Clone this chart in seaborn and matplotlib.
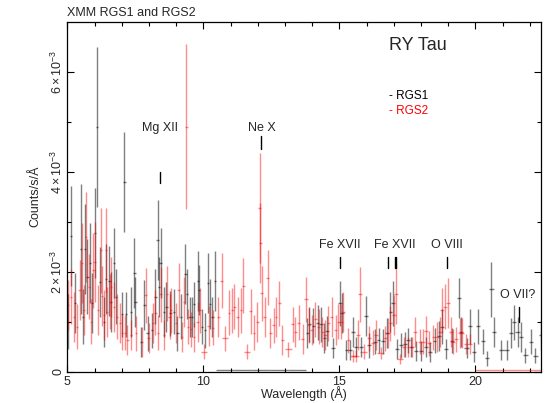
import numpy as np
import matplotlib
matplotlib.use("Agg")
import matplotlib.pyplot as plt
import seaborn as sns

# RGS1 binned spectrum (wavelength in A, rate in 1e-3 counts/s/A)
rgs1_wave = [5.02, 5.15, 5.27, 5.49, 5.57, 5.64, 5.74, 5.82, 5.90, 6.03,
             6.10, 6.19, 6.35, 6.42, 6.55, 6.60, 6.71, 6.80, 7.00, 7.10,
             7.15, 7.35, 7.47, 7.50, 7.70, 7.83, 7.95, 8.11, 8.24, 8.32,
             8.38, 8.43, 8.55, 8.64, 8.79, 8.92, 9.05, 9.17, 9.34, 9.39,
             9.50, 9.59, 9.65, 9.80, 9.84, 9.96, 10.07, 10.17, 10.25, 10.33,
             10.42, 10.80, 11.46, 12.12, 12.79, 13.45,
             13.82, 13.90, 14.05, 14.20, 14.33, 14.45, 14.55, 14.77, 15.01, 15.09,
             15.26, 15.38, 15.50, 15.60, 15.81, 15.97, 16.10, 16.30, 16.44, 16.60,
             16.75, 16.88, 16.96, 17.12, 17.28, 17.40, 17.52, 17.65, 17.83, 17.99,
             18.18, 18.34, 18.50, 18.65, 18.78, 18.93, 19.14, 19.39, 19.48, 19.68,
             19.80, 19.96, 20.10, 20.28, 20.44, 20.59, 20.68, 20.96, 21.15, 21.30,
             21.42, 21.55, 21.67, 21.84, 22.05, 22.21, 22.43]
rgs1_rate = [1.00, 2.71, 1.37, 2.45, 1.10, 2.45, 1.90, 2.17, 1.37, 2.77,
             4.90, 1.80, 1.00, 1.85, 1.82, 1.40, 2.17, 1.50, 1.15, 3.80,
             1.15, 1.20, 1.97, 1.40, 0.60, 1.33, 0.77, 0.83, 1.50, 2.63,
             1.70, 2.17, 1.20, 1.30, 1.17, 1.20, 0.77, 1.10, 1.95, 1.55,
             1.10, 1.10, 1.35, 1.82, 1.63, 0.90, 0.83, 1.77, 1.36, 1.10,
             1.82, 0.03, 0.03, 0.03, 0.03, 0.03,
             0.78, 0.95, 0.92, 0.98, 0.95, 0.68, 0.82, 0.48, 1.37, 1.17,
             0.43, 0.43, 0.80, 0.50, 0.50, 1.11, 0.53, 0.60, 0.63, 0.61,
             0.77, 1.20, 1.37, 0.45, 0.53, 0.55, 0.63, 0.50, 0.41, 0.41,
             0.50, 0.40, 0.62, 0.72, 0.90, 0.45, 0.62, 1.47, 0.80, 0.47,
             0.91, 0.39, 0.91, 0.61, 0.27, 1.65, 0.80, 0.43, 0.43, 0.78,
             0.99, 0.80, 0.69, 0.33, 0.60, 0.32, 0.73]
rgs1_err = [0.55, 1.00, 0.60, 1.30, 0.55, 0.90, 0.75, 0.80, 0.60, 0.90,
            1.60, 0.70, 0.50, 0.70, 0.70, 0.60, 0.70, 0.55, 0.45, 1.00,
            0.45, 0.50, 0.70, 0.50, 0.30, 0.50, 0.35, 0.35, 0.55, 0.80,
            0.60, 0.70, 0.50, 0.50, 0.45, 0.45, 0.35, 0.45, 0.60, 0.50,
            0.40, 0.40, 0.45, 0.60, 0.50, 0.35, 0.35, 0.60, 0.50, 0.40,
            0.60, 0.00, 0.00, 0.00, 0.00, 0.00,
            0.30, 0.35, 0.35, 0.35, 0.35, 0.30, 0.30, 0.20, 0.45, 0.40,
            0.20, 0.20, 0.30, 0.20, 0.20, 0.40, 0.25, 0.25, 0.25, 0.25,
            0.30, 0.40, 0.45, 0.20, 0.25, 0.25, 0.25, 0.20, 0.20, 0.20,
            0.20, 0.20, 0.25, 0.30, 0.35, 0.20, 0.25, 0.40, 0.30, 0.20,
            0.35, 0.20, 0.35, 0.25, 0.15, 0.55, 0.30, 0.20, 0.20, 0.30,
            0.35, 0.30, 0.30, 0.15, 0.25, 0.15, 0.30]
rgs1_hw = ([0.04] * 21 + [0.045] * 30 + [0.33] * 5 + [0.06] * 8
           + [0.07] * 28 + [0.08] * 21)

# RGS2 binned spectrum
rgs2_wave = [5.03, 5.15, 5.25, 5.35, 5.45, 5.54, 5.62, 5.70, 5.79, 5.86,
             5.96, 6.00, 6.14, 6.23, 6.28, 6.35, 6.43, 6.47, 6.56, 6.62,
             6.71, 6.83, 6.93, 7.02, 7.12, 7.21, 7.35, 7.53, 7.74, 7.88,
             7.99, 8.15, 8.24, 8.33, 8.43, 8.55, 8.67, 8.76, 8.82, 9.00,
             9.09, 9.22, 9.29, 9.38, 9.44, 9.54, 9.66, 9.79, 9.87, 10.02,
             10.20, 10.36, 10.55, 10.67, 10.79, 10.94, 11.07, 11.14, 11.26, 11.38,
             11.47, 11.60, 11.74, 11.86, 11.98, 12.07, 12.10, 12.15, 12.25, 12.36,
             12.46, 12.58, 12.67, 12.79, 12.91, 13.13, 13.28, 13.38, 13.50, 13.65,
             13.77, 13.87, 13.99, 14.12, 14.24, 14.37, 14.47, 14.60, 14.72, 14.87,
             14.96, 15.06, 15.14, 15.33, 15.51, 15.60, 15.69, 15.77, 15.89, 16.09,
             16.24, 16.36, 16.52, 16.67, 16.79, 16.88, 17.00, 17.08, 17.23, 17.38,
             17.54, 17.66, 17.79, 17.95, 18.07, 18.19, 18.31, 18.46, 18.60, 18.70,
             18.78, 18.88, 18.98, 19.10, 19.18, 19.30, 19.43, 19.51, 19.67, 19.80,
             20.30, 20.90, 21.50, 22.10]
rgs2_rate = [1.33, 1.50, 1.10, 0.90, 1.63, 2.17, 1.23, 2.70, 1.70, 1.00,
             2.03, 2.20, 1.23, 2.43, 1.51, 1.13, 2.43, 1.20, 1.40, 1.70,
             1.30, 1.10, 0.97, 0.78, 0.78, 0.63, 0.73, 0.77, 0.60, 1.53,
             0.67, 0.97, 1.18, 0.78, 1.55, 0.73, 1.56, 1.10, 1.23, 0.97,
             1.63, 0.70, 1.40, 4.90, 0.90, 0.85, 0.70, 1.00, 1.23, 0.40,
             0.92, 0.88, 1.10, 1.82, 0.67, 1.18, 1.23, 1.30, 1.10, 1.23,
             1.72, 0.40, 1.21, 0.78, 1.00, 3.27, 2.57, 1.57, 1.10, 1.88,
             0.77, 0.93, 1.10, 1.37, 0.63, 0.45, 0.95, 0.80, 0.98, 0.65,
             1.45, 0.93, 0.83, 1.05, 0.90, 0.80, 0.73, 0.97, 1.10, 0.83,
             1.00, 1.00, 1.20, 0.63, 0.31, 0.31, 0.73, 1.55, 0.40, 0.67,
             0.58, 0.73, 0.37, 0.67, 0.78, 0.97, 1.13, 1.55, 0.25, 0.50,
             0.50, 0.50, 0.80, 0.60, 0.60, 0.82, 0.57, 0.69, 0.70, 0.80,
             1.23, 1.30, 1.37, 0.80, 0.60, 0.65, 0.78, 0.78, 0.55, 0.55,
             0.03, 0.03, 0.03, 0.03]
rgs2_err = [0.50, 0.55, 0.50, 0.45, 0.60, 0.80, 0.50, 0.90, 0.65, 0.45,
            0.75, 0.80, 0.50, 0.85, 0.60, 0.50, 0.85, 0.50, 0.55, 0.60,
            0.50, 0.45, 0.40, 0.35, 0.35, 0.30, 0.30, 0.35, 0.30, 0.55,
            0.30, 0.40, 0.45, 0.35, 0.55, 0.30, 0.55, 0.45, 0.45, 0.40,
            0.55, 0.30, 0.50, 1.65, 0.35, 0.35, 0.30, 0.40, 0.45, 0.15,
            0.40, 0.35, 0.40, 0.55, 0.25, 0.45, 0.45, 0.45, 0.40, 0.45,
            0.55, 0.15, 0.45, 0.35, 0.40, 1.10, 0.80, 0.55, 0.40, 0.55,
            0.30, 0.35, 0.40, 0.45, 0.30, 0.15, 0.35, 0.30, 0.35, 0.30,
            0.45, 0.35, 0.30, 0.35, 0.35, 0.30, 0.30, 0.35, 0.40, 0.30,
            0.35, 0.35, 0.40, 0.25, 0.12, 0.12, 0.30, 0.55, 0.15, 0.25,
            0.25, 0.30, 0.12, 0.25, 0.30, 0.35, 0.40, 0.60, 0.10, 0.20,
            0.20, 0.20, 0.30, 0.25, 0.25, 0.30, 0.25, 0.25, 0.30, 0.30,
            0.45, 0.45, 0.50, 0.30, 0.25, 0.25, 0.30, 0.30, 0.20, 0.20,
            0.00, 0.00, 0.00, 0.00]
rgs2_hw = ([0.04] * 29 + [0.045] * 20 + [0.12] + [0.05] * 4 + [0.12]
           + [0.05] * 6 + [0.12] + [0.05] * 13 + [0.12] + [0.06] * 18
           + [0.12] * 2 + [0.07] * 2 + [0.12] + [0.07] * 3 + [0.12]
           + [0.07] * 5 + [0.12] + [0.07] * 21 + [0.30] * 4)

# line identifications: label, text position, marker wavelengths, marker y-range
lines = [("Mg XII", 8.40, 4.87, [8.42], 3.77, 4.00),
         ("Ne X", 12.15, 4.87, [12.13], 4.45, 4.71),
         ("Fe XVII", 15.00, 2.53, [15.01], 2.07, 2.29),
         ("Fe XVII", 17.04, 2.53, [16.78, 17.05, 17.10], 2.07, 2.29),
         ("O VIII", 18.95, 2.53, [18.97], 2.07, 2.29),
         ("O VII?", 21.56, 1.53, [21.60], 0.99, 1.29)]

sns.set_theme(style="ticks")
plt.rcParams['font.family'] = ['Liberation Sans', 'DejaVu Sans']
plt.rcParams['mathtext.fontset'] = 'custom'
plt.rcParams['mathtext.rm'] = 'Liberation Sans'
plt.rcParams['mathtext.it'] = 'Liberation Sans'

fig = plt.figure(figsize=(5.45, 4.03), dpi=100)
ax = fig.add_axes([0.1235, 0.0775, 0.8685, 0.869])

scale = 1e-3
ax.errorbar(np.array(rgs1_wave), np.array(rgs1_rate) * scale,
            xerr=rgs1_hw, yerr=np.array(rgs1_err) * scale,
            fmt='none', ecolor='black', elinewidth=1.0, alpha=0.5)
ax.errorbar(np.array(rgs2_wave), np.array(rgs2_rate) * scale,
            xerr=rgs2_hw, yerr=np.array(rgs2_err) * scale,
            fmt='none', ecolor='red', elinewidth=1.0, alpha=0.45)

for label, tx, ty, marks, y0, y1 in lines:
    ax.text(tx, ty * scale, label, ha='center', va='center', fontsize=9)
    for m in marks:
        ax.plot([m, m], [y0 * scale, y1 * scale], color='black', lw=1)

ax.text(16.81, 6.53e-3, "RY Tau", fontsize=13, va='center')
ax.text(16.81, 5.51e-3, "- RGS1", fontsize=8.5, va='center', color='black')
ax.text(16.81, 5.21e-3, "- RGS2", fontsize=8.5, va='center', color='red')

ax.set_xlim(5, 22.4)
ax.set_ylim(0, 7e-3)
ax.set_xticks([5, 10, 15, 20])
ax.set_xticks(np.arange(5, 23, 1), minor=True)
ax.set_yticks([0, 2e-3, 4e-3, 6e-3])
ax.set_yticks([1e-3, 3e-3, 5e-3], minor=True)
ax.set_yticklabels(["0", r"$2\times10^{-3}$", r"$4\times10^{-3}$", r"$6\times10^{-3}$"],
                   rotation=90, va='center')
ax.tick_params(which='both', direction='in', top=True, right=True,
               labelsize=9, color='black', width=0.8)
ax.tick_params(axis='x', pad=3)
ax.tick_params(axis='y', pad=2)
ax.tick_params(which='major', length=5)
ax.tick_params(which='minor', length=3)
for s in ax.spines.values():
    s.set_color('black')
    s.set_linewidth(0.9)

ax.set_xlabel("Wavelength (Å)", fontsize=9, labelpad=-1)
ax.set_ylabel("Counts/s/Å", fontsize=9, labelpad=6)
ax.set_title("XMM RGS1 and RGS2", loc='left', fontsize=9, pad=4)

fig.savefig("out.png", dpi=100)
